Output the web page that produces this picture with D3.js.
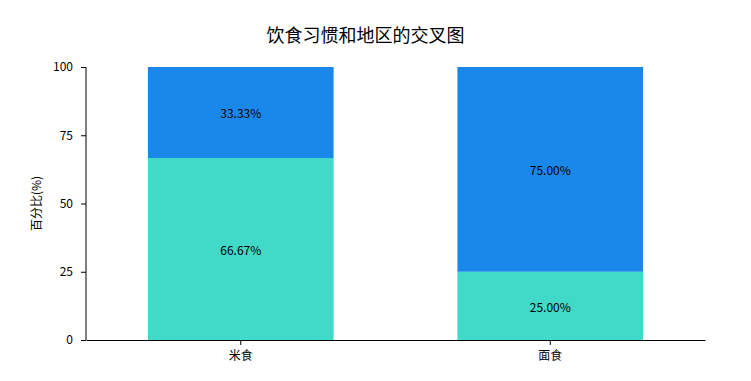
<!DOCTYPE html>
<html>
<head>
<meta charset="utf-8">
<script src="https://d3js.org/d3.v7.min.js"></script>
<style>
  body { margin: 0; background: #fff; }
  text { font-family: "Noto Sans CJK SC", "DejaVu Sans", sans-serif; }
</style>
</head>
<body>
<script>
    // categories and stacked series (percent)
    var categories = ["米食", "面食"];
    var seriesNames = ["南方", "北方"];
    var bottomValues = [66.67, 25.00];
    var topValues = [33.33, 75.00];
    var yTicks = [0, 25, 50, 75, 100];
    var colors = ["#41d9c7", "#1a88ea"];

    var margin = {top: 67, right: 46, bottom: 41, left: 86};
    var W = 751, H = 381;
    var width = W - margin.left - margin.right;
    var height = H - margin.top - margin.bottom;

    var svg = d3.select("body").append("svg")
        .attr("width", W)
        .attr("height", H);

    svg.append("text")
        .attr("x", W / 2 - 10)
        .attr("y", 42)
        .attr("text-anchor", "middle")
        .style("font-size", "18px")
        .text("饮食习惯和地区的交叉图");

    var g = svg.append("g")
        .attr("transform", `translate(${margin.left},${margin.top})`);

    var data = categories.map(function(c, i) {
        return {cat: c, [seriesNames[0]]: bottomValues[i], [seriesNames[1]]: topValues[i]};
    });
    var stacked = d3.stack().keys(seriesNames)(data);

    var x = d3.scaleBand().domain(categories).range([0, width])
        .paddingInner(0.4).paddingOuter(0.2);
    var y = d3.scaleLinear().domain([0, 100]).range([height, 0]);

    var layers = g.selectAll(".layer")
        .data(stacked)
        .join("g")
        .attr("fill", (d, i) => colors[i]);

    layers.selectAll("rect")
        .data(d => d)
        .join("rect")
        .attr("x", d => x(d.data.cat))
        .attr("width", x.bandwidth())
        .attr("y", d => y(d[1]))
        .attr("height", d => y(d[0]) - y(d[1]));

    layers.selectAll("text")
        .data(d => d)
        .join("text")
        .attr("x", d => x(d.data.cat) + x.bandwidth() / 2)
        .attr("y", d => (y(d[0]) + y(d[1])) / 2)
        .attr("dy", "0.5em")
        .attr("text-anchor", "middle")
        .attr("fill", "#000")
        .style("font-size", "12px")
        .text(d => (d[1] - d[0]).toFixed(2) + "%");

    var yAxis = g.append("g")
        .call(d3.axisLeft(y).tickValues(yTicks).tickSize(5).tickPadding(8));
    var xAxis = g.append("g")
        .attr("transform", `translate(0,${height})`)
        .call(d3.axisBottom(x).tickSize(5).tickPadding(6).tickSizeOuter(0));
    yAxis.select(".domain").attr("d", `M0,${height}V0`);
    [yAxis, xAxis].forEach(function(a) {
        a.selectAll("text").style("font-size", "12px").attr("fill", "#000")
            .style("font-family", '"Noto Sans CJK SC", "DejaVu Sans", sans-serif');
        a.selectAll("line, path").attr("stroke", "#000");
    });

    svg.append("text")
        .attr("transform", `translate(41,${margin.top + height / 2}) rotate(-90)`)
        .attr("text-anchor", "middle")
        .style("font-size", "12px")
        .text("百分比(%)");
</script>
</body>
</html>
